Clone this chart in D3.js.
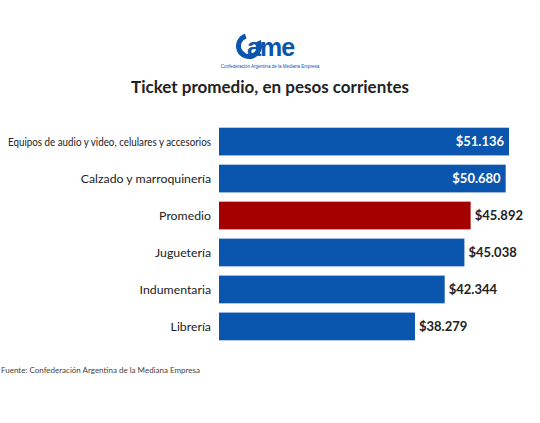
<!DOCTYPE html><html><head><meta charset="utf-8"><script src="https://cdn.jsdelivr.net/npm/d3@7"></script>
<style>body{margin:0;background:#fff}</style></head><body><svg id="c" width="540" height="423"></svg>
<script>
const categories=["Equipos de audio y video, celulares y accesorios","Calzado y marroquinería","Promedio","Juguetería","Indumentaria","Librería"];
const values=[51136,50680,45892,45038,42344,38279];
const labels=["$51.136","$50.680","$45.892","$45.038","$42.344","$38.279"];
const svg=d3.select("#c");
const x=d3.scaleLinear().domain([11490,51136]).range([219,509]);
const y=d3.scaleBand().domain(categories).range([124,344]).paddingInner(0.25).paddingOuter(0.1);
const g=svg.append("g");
g.selectAll("rect").data(values).join("rect").attr("x",x(11490)).attr("y",(d,i)=>y(categories[i]))
 .attr("width",d=>x(d)-x(11490)).attr("height",y.bandwidth()).attr("fill",(d,i)=>categories[i]==="Promedio"?"#a50000":"#0a55ad");
g.selectAll("text.c").data(categories).join("text").attr("x",211).attr("y",d=>y(d)+y.bandwidth()/2).attr("dy","0.35em")
 .attr("text-anchor","end").attr("font-family","Lato").attr("font-size",12.3).attr("fill","#222").text(d=>d)
 .each(function(){const w=this.getComputedTextLength();if(w>203)d3.select(this).attr("textLength",203).attr("lengthAdjust","spacingAndGlyphs");});
g.selectAll("text.v").data(values).join("text").attr("font-family","Lato").attr("font-weight","bold").attr("font-size",13)
 .attr("y",(d,i)=>y(categories[i])+y.bandwidth()/2).attr("dy","0.35em")
 .attr("x",(d,i)=>i<2?x(d)-5:x(d)+4).attr("text-anchor",(d,i)=>i<2?"end":"start")
 .attr("fill",(d,i)=>i<2?"#fff":"#222").text((d,i)=>labels[i]);
svg.append("text").attr("x",270).attr("y",93).attr("text-anchor","middle").attr("font-family","Lato").attr("font-weight","bold").attr("font-size",17).attr("fill","#222").text("Ticket promedio, en pesos corrientes");
svg.append("text").attr("x",1).attr("y",373).attr("font-family","Lato").attr("font-size",8).attr("fill","#444").text("Fuente: Confederación Argentina de la Mediana Empresa");
// logo
const arc=d3.arc().innerRadius(8).outerRadius(13).startAngle(Math.PI*0.35).endAngle(Math.PI*1.9);
svg.append("path").attr("d",arc()).attr("transform","translate(249,46)").attr("fill","#0a55ad");
svg.append("text").attr("x",247).attr("y",56).attr("font-family","Liberation Sans").attr("font-weight","bold").attr("font-size",25).attr("fill","#0a55ad").attr("letter-spacing",-1).text("ame");
svg.append("text").attr("x",270).attr("y",68).attr("text-anchor","middle").attr("font-family","Liberation Sans").attr("font-size",4.5).attr("fill","#0a55ad").text("Confederación Argentina de la Mediana Empresa");
</script></body></html>
